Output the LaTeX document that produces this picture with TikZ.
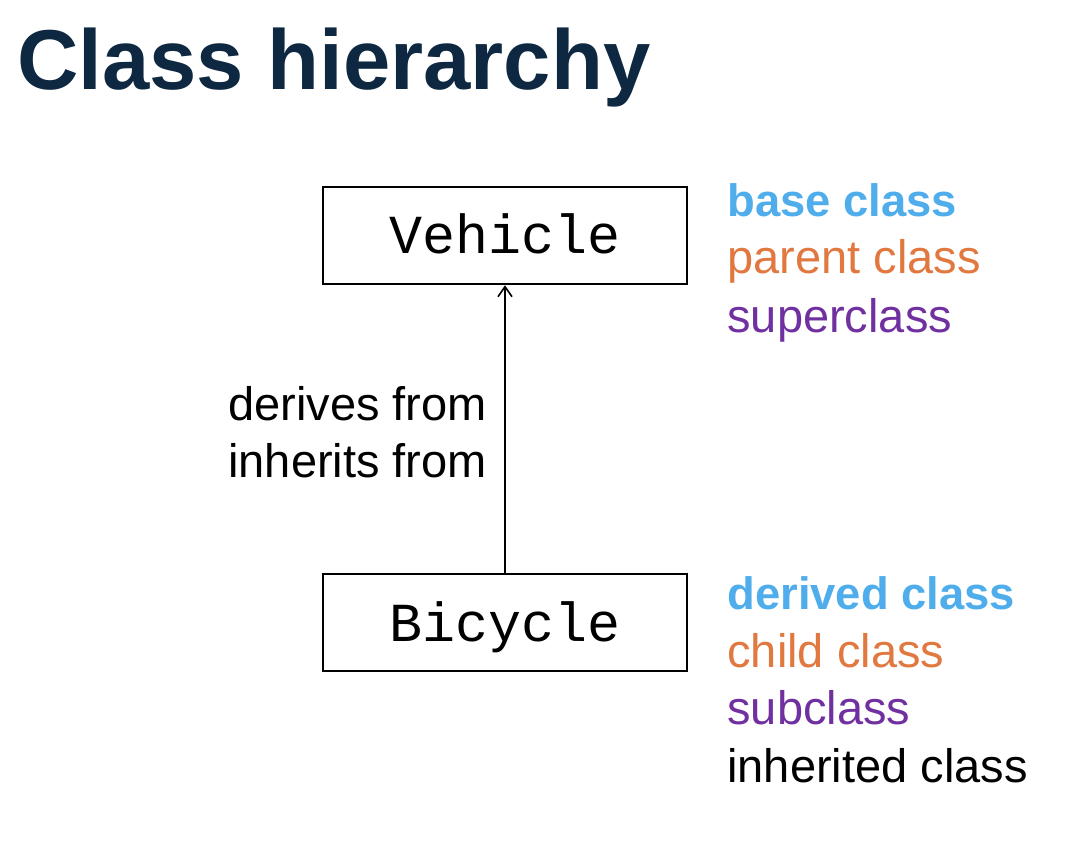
\documentclass[tikz,border=0pt]{standalone}
\usepackage{fontspec}
\setmainfont{Liberation Sans}
\setmonofont{Liberation Mono}
\usetikzlibrary{arrows.meta,positioning}
\definecolor{titlenavy}{HTML}{0E2841}
\definecolor{termblue}{HTML}{4EADEA}
\definecolor{termorange}{HTML}{E0783F}
\definecolor{termpurple}{HTML}{7030A0}
\tikzset{
  classbox/.style={draw,rectangle,line width=1.3pt,minimum width=182pt,minimum height=48.5pt,
    inner sep=0pt,text height=18.5pt,text depth=0pt,font=\fontsize{27.5}{30}\ttfamily},
  term/.style={anchor=base west,inner sep=0pt,font=\fontsize{23.5}{28}\selectfont},
  termbold/.style={term,font=\fontsize{22.7}{28}\selectfont\bfseries}
}

\begin{document}
\begin{tikzpicture}[x=0.5pt,y=-0.5pt,>={Straight Barb[length=5pt,width=7pt]}]
  \useasboundingbox (0,0) rectangle (1090,844);
  \node[anchor=base west,inner sep=0pt,text=titlenavy,font=\fontsize{42.5}{48}\selectfont\bfseries]
    (title) at (17,90) {Class hierarchy};

  \node[classbox] (vehicle) at (505,235.5) {Vehicle};
  \node[classbox] (bicycle) at (505,622.5) {Bicycle};

  \draw[->,line width=0.8pt] (bicycle) -- (vehicle);

  \node[term] (derives) at (228,420) {derives from};
  \node[term] (inherits) at (228,477) {inherits from};

  % names for the parent
  \node[termbold,text=termblue] (basel) at (727,217) {base class};
  \node[term,text=termorange] (parentl) at (727,274) {parent class};
  \node[term,text=termpurple] (superl) at (727,332) {superclass};

  % names for the child
  \node[termbold,text=termblue] (derivedl) at (727,609) {derived class};
  \node[term,text=termorange] (childl) at (727,667) {child class};
  \node[term,text=termpurple] (subl) at (727,724) {subclass};
  \node[term] (inhl) at (727,782) {inherited class};
\end{tikzpicture}
\end{document}
